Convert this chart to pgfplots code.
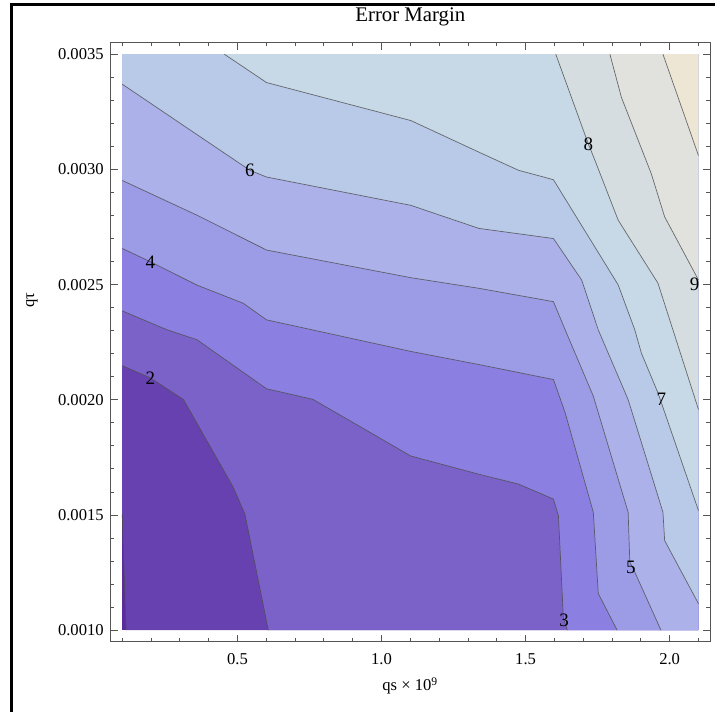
\documentclass[border=0pt]{standalone}
\usepackage{fontspec}
\setmainfont{Liberation Serif}
\usepackage{pgfplots}
\pgfplotsset{compat=1.18}

\definecolor{frm}{HTML}{555555}
\definecolor{c0}{HTML}{5B2C9C}
\definecolor{c1}{HTML}{6741B0}
\definecolor{c2}{HTML}{7B62C8}
\definecolor{c3}{HTML}{8B80E2}
\definecolor{c4}{HTML}{9C9BE6}
\definecolor{c5}{HTML}{ACB1E9}
\definecolor{c6}{HTML}{B9C9E8}
\definecolor{c7}{HTML}{C7D8E6}
\definecolor{c8}{HTML}{D5DDE0}
\definecolor{c9}{HTML}{E1E2DD}
\definecolor{c10}{HTML}{EDE6D5}

\tikzset{
  band/.style={draw=none, fill=#1},
  cline/.style={draw=black!70, line width=0.35pt, opacity=0.8},
  clab/.style={font=\fontsize{9.5}{11}\selectfont, inner sep=0pt},
}

\begin{document}
\begin{tikzpicture}
\begin{axis}[
  at={(0,0)}, anchor=south west,
  scale only axis, width=299.65pt, height=299.5pt,
  xmin=0.06, xmax=2.14, ymin=0.00095, ymax=0.00355,
  axis line style={frm, line width=0.5pt},
  tick style={frm, line width=0.45pt},
  tick align=inside,
  major tick length=3.6pt, minor tick length=1.8pt,
  scaled ticks=false,
  xtick={0.5,1,1.5,2}, xticklabels={0.5,1.0,1.5,2.0},
  minor xtick={0.1,0.2,0.3,0.4,0.6,0.7,0.8,0.9,1.1,1.2,1.3,1.4,1.6,1.7,1.8,1.9,2.1},
  ytick={0.001,0.0015,0.002,0.0025,0.003,0.0035},
  yticklabels={0.0010,0.0015,0.0020,0.0025,0.0030,0.0035},
  minor ytick={0.0011,0.0012,0.0013,0.0014,0.0016,0.0017,0.0018,0.0019,
               0.0021,0.0022,0.0023,0.0024,0.0026,0.0027,0.0028,0.0029,
               0.0031,0.0032,0.0033,0.0034},
  xticklabel style={font=\fontsize{8.3}{10}\selectfont, anchor=base, yshift=-11.2pt, inner sep=0pt},
  yticklabel style={font=\fontsize{8.3}{10}\selectfont, anchor=east, xshift=-3.3pt, inner sep=0pt},
  title={Error Margin},
  title style={font=\fontsize{10.4}{12}\selectfont, at={(axis description cs:0.5,1.0157)}, anchor=base, inner sep=0pt},
  xlabel={qs × 10\textsuperscript{9}},
  xlabel style={font=\fontsize{8.3}{10}\selectfont, at={(axis description cs:0.5,-0.0821)}, anchor=base, inner sep=0pt},
  ylabel={qτ},
  ylabel style={font=\fontsize{8.3}{10}\selectfont, at={(axis description cs:-0.1313,0.5705)}, anchor=center, inner sep=0pt},
]
% filled bands: region above each contour level, stacked from low to high
\addplot[band=c0] coordinates {(0.1,0.001) (2.1,0.001) (2.1,0.0035) (0.1,0.0035)} -- cycle;
\addplot[band=c1] coordinates {(0.1,0.001504) (0.1131,0.001) (2.1,0.001) (2.1,0.0035) (0.1,0.0035)} -- cycle;
\addplot[band=c2] coordinates {(0.1,0.002148) (0.1978,0.002095) (0.3128,0.002001) (0.4855,0.00162)
  (0.5259,0.001504) (0.6071,0.001) (2.1,0.001) (2.1,0.0035) (0.1,0.0035)} -- cycle;
\addplot[band=c3] coordinates {(0.1,0.002386) (0.2554,0.002304) (0.3591,0.002261) (0.6009,0.002048)
  (0.7618,0.002002) (1.1017,0.001756) (1.3377,0.001677) (1.4758,0.001634) (1.5967,0.001569)
  (1.614,0.001497) (1.6312,0.001051) (1.645,0.001) (2.1,0.001) (2.1,0.0035) (0.1,0.0035)} -- cycle;
\addplot[band=c4] coordinates {(0.1,0.002657) (0.1978,0.002599) (0.3591,0.002498) (0.52,0.002419)
  (0.6009,0.002347) (1.1017,0.00221) (1.3377,0.002153) (1.5967,0.002088) (1.6372,0.001944)
  (1.735,0.001512) (1.7522,0.001159) (1.8178,0.001) (2.1,0.001) (2.1,0.0035) (0.1,0.0035)} -- cycle;
\addplot[band=c5] coordinates {(0.1,0.002952) (0.36,0.002801) (0.6009,0.00265) (1.1017,0.00253)
  (1.3377,0.002484) (1.5967,0.002426) (1.6372,0.002304) (1.735,0.002016) (1.8559,0.001512)
  (1.8617,0.001296) (1.879,0.001252) (1.9698,0.001) (2.1,0.001) (2.1,0.0035) (0.1,0.0035)} -- cycle;
\addplot[band=c6] coordinates {(0.1,0.00337) (0.5432,0.002996) (0.6009,0.002967) (1.1017,0.002844)
  (1.3377,0.002744) (1.5967,0.0027) (1.6945,0.00252) (1.752,0.002304) (1.8558,0.002001)
  (1.9767,0.001512) (1.9826,0.001389) (2.1,0.001115) (2.1,0.0035) (0.1,0.0035)} -- cycle;
\addplot[band=c7] coordinates {(0.4544,0.0035) (0.6009,0.003377) (1.1017,0.003212) (1.3377,0.003075)
  (1.4758,0.002996) (1.5622,0.002967) (1.5967,0.002955) (1.8212,0.002499) (1.8789,0.002304)
  (1.9017,0.002203) (1.9594,0.00203) (2.1,0.001519) (2.1,0.0035)} -- cycle;
\addplot[band=c8] coordinates {(1.6047,0.0035) (1.7176,0.003111) (1.7408,0.003039) (1.8212,0.00278)
  (1.9594,0.002506) (2.0112,0.002304) (2.1,0.001958) (2.1,0.0035)} -- cycle;
\addplot[band=c9] coordinates {(1.7926,0.0035) (1.8327,0.003312) (1.9363,0.002981) (1.9826,0.002794)
  (2.1,0.00252) (2.1,0.0035)} -- cycle;
\addplot[band=c10] coordinates {(1.9767,0.0035) (2.1,0.00306) (2.1,0.0035)} -- cycle;

% contour lines
\addplot[cline] coordinates {(0.1,0.001504) (0.1131,0.001)};
\addplot[cline] coordinates {(0.1,0.002148) (0.1978,0.002095) (0.3128,0.002001) (0.4855,0.00162)
  (0.5259,0.001504) (0.6071,0.001)};
\addplot[cline] coordinates {(0.1,0.002386) (0.2554,0.002304) (0.3591,0.002261) (0.6009,0.002048)
  (0.7618,0.002002) (1.1017,0.001756) (1.3377,0.001677) (1.4758,0.001634) (1.5967,0.001569)
  (1.614,0.001497) (1.6312,0.001051) (1.645,0.001)};
\addplot[cline] coordinates {(0.1,0.002657) (0.1978,0.002599) (0.3591,0.002498) (0.52,0.002419)
  (0.6009,0.002347) (1.1017,0.00221) (1.3377,0.002153) (1.5967,0.002088) (1.6372,0.001944)
  (1.735,0.001512) (1.7522,0.001159) (1.8178,0.001)};
\addplot[cline] coordinates {(0.1,0.002952) (0.36,0.002801) (0.6009,0.00265) (1.1017,0.00253)
  (1.3377,0.002484) (1.5967,0.002426) (1.6372,0.002304) (1.735,0.002016) (1.8559,0.001512)
  (1.8617,0.001296) (1.879,0.001252) (1.9698,0.001)};
\addplot[cline] coordinates {(0.1,0.00337) (0.5432,0.002996) (0.6009,0.002967) (1.1017,0.002844)
  (1.3377,0.002744) (1.5967,0.0027) (1.6945,0.00252) (1.752,0.002304) (1.8558,0.002001)
  (1.9767,0.001512) (1.9826,0.001389) (2.1,0.001115)};
\addplot[cline] coordinates {(0.4544,0.0035) (0.6009,0.003377) (1.1017,0.003212) (1.3377,0.003075)
  (1.4758,0.002996) (1.5622,0.002967) (1.5967,0.002955) (1.8212,0.002499) (1.8789,0.002304)
  (1.9017,0.002203) (1.9594,0.00203) (2.1,0.001519)};
\addplot[cline] coordinates {(1.6047,0.0035) (1.7176,0.003111) (1.7408,0.003039) (1.8212,0.00278)
  (1.9594,0.002506) (2.0112,0.002304) (2.1,0.001958)};
\addplot[cline] coordinates {(1.7926,0.0035) (1.8327,0.003312) (1.9363,0.002981) (1.9826,0.002794)
  (2.1,0.00252)};
\addplot[cline] coordinates {(1.9767,0.0035) (2.1,0.00306)};

% contour labels
\node[clab] at (axis cs:0.1978,0.002095) {2};
\node[clab] at (axis cs:1.6337,0.001041) {3};
\node[clab] at (axis cs:0.1978,0.002599) {4};
\node[clab] at (axis cs:1.865,0.001274) {5};
\node[clab] at (axis cs:0.5432,0.002996) {6};
\node[clab] at (axis cs:1.9708,0.002001) {7};
\node[clab] at (axis cs:1.7176,0.003111) {8};
\node[clab] at (axis cs:2.087,0.0025) {9};
\end{axis}
% outer border on the left and top of the graphic
\draw[line width=1.5pt, line join=miter] (-49.6pt,-40pt) -- (-49.6pt,318.35pt) -- (310pt,318.35pt);
\pgfresetboundingbox
\path (-55.35pt,-34.65pt) rectangle (302.15pt,320.85pt);
\end{tikzpicture}
\end{document}
